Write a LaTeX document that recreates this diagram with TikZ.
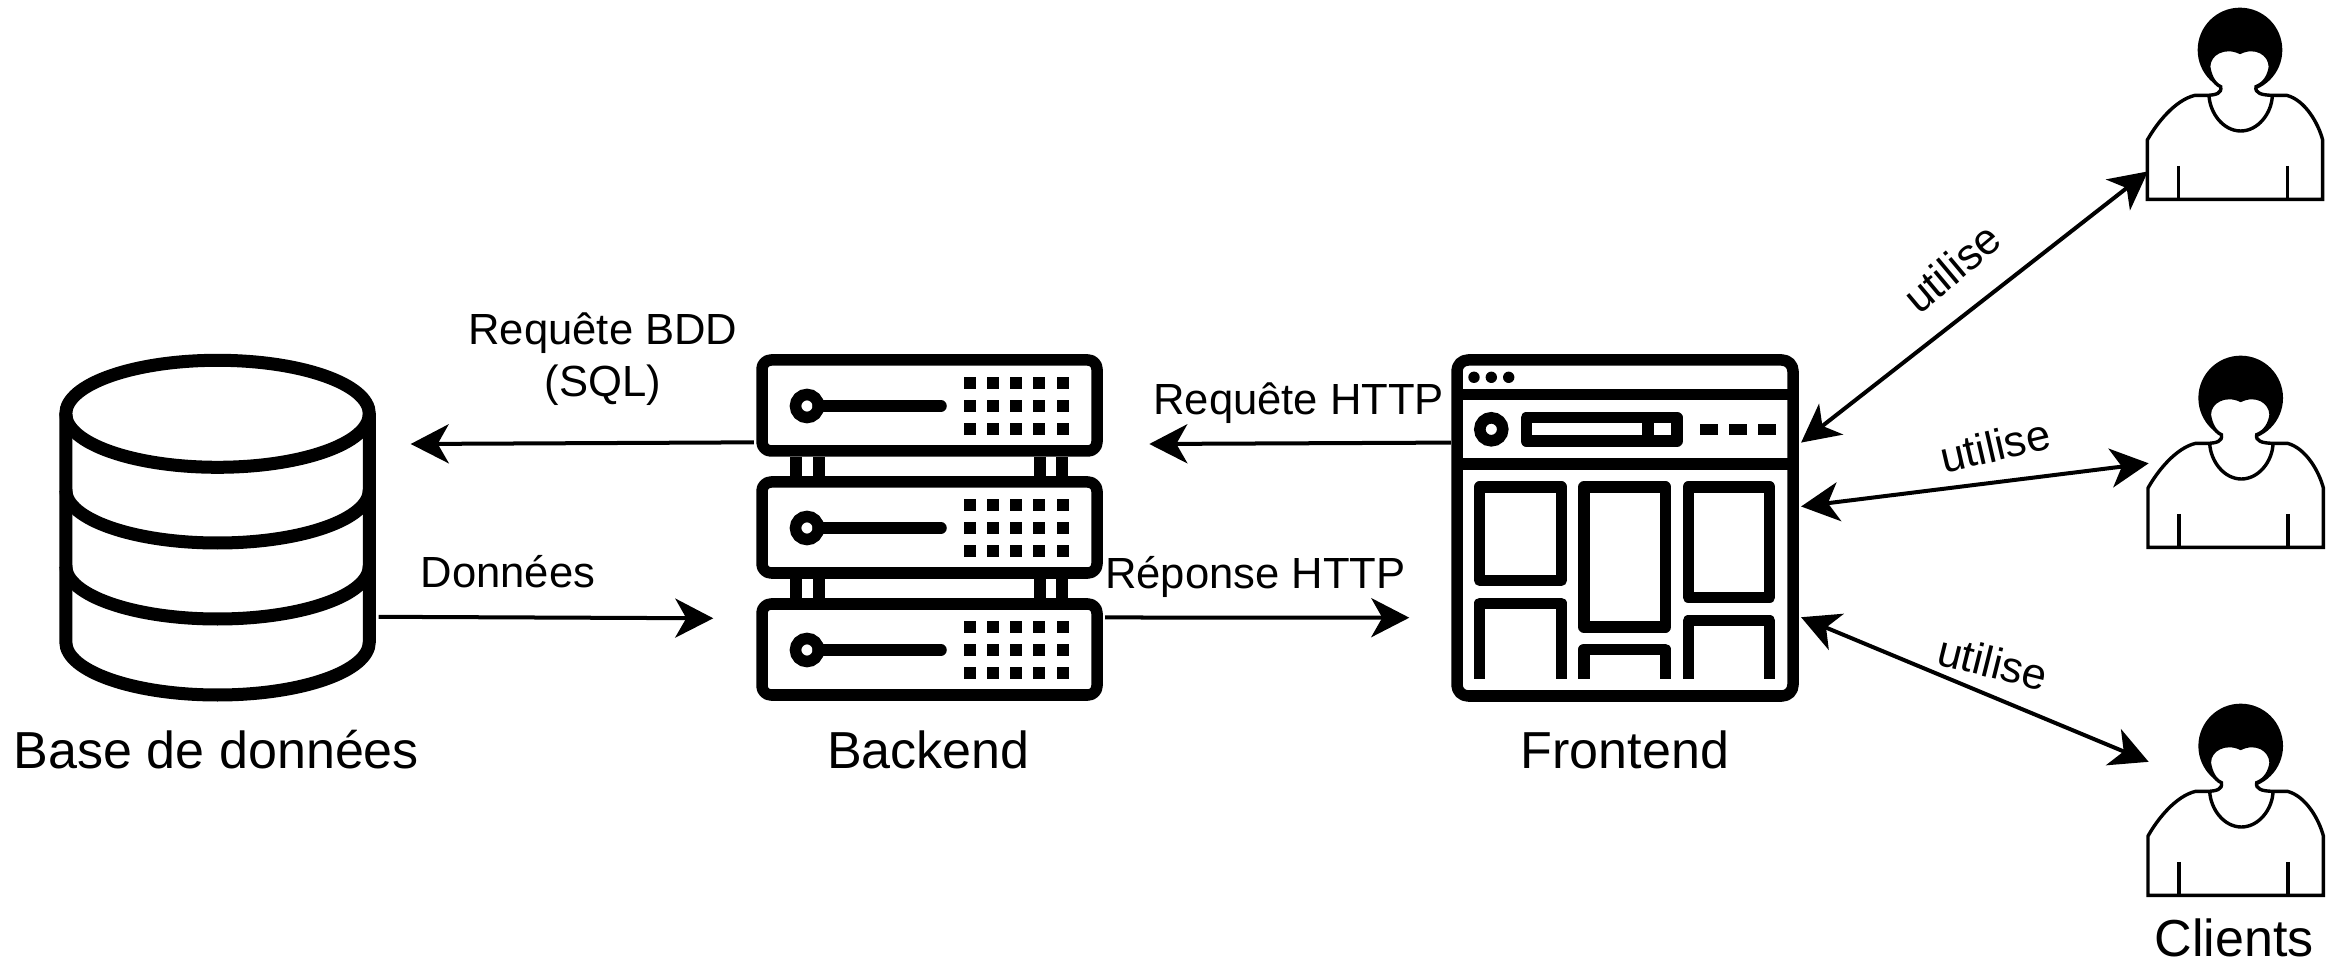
\documentclass[tikz,border=0pt]{standalone}
\usepackage{fontspec}
\setmainfont{Liberation Sans}
\usetikzlibrary{arrows.meta}

\tikzset{
	iconbox/.style={minimum height=3.48cm, inner sep=0pt, outer sep=0pt},
	iconline/.style={draw, line width=0.115cm, line join=round},
	dbline/.style={draw, line width=0.13cm},
	personline/.style={draw, line width=0.034cm},
	link/.style={line width=0.04cm, -{Stealth[length=0.38cm,width=0.39cm,inset=0.11cm]}},
	biglink/.style={line width=0.04cm, {Stealth[length=0.38cm,width=0.39cm,inset=0.11cm]}-{Stealth[length=0.38cm,width=0.39cm,inset=0.11cm]}},
	title/.style={anchor=base, inner sep=0pt, font=\fontsize{14.8}{17.8}\selectfont},
	edgelabel/.style={anchor=base, inner sep=0pt, font=\fontsize{12.4}{14.9}\selectfont},
	person/.pic={
		\begin{scope}[scale=1/3]
			% Hair
			\fill (330,150) circle[radius=127];
			% Body and face
			\path[personline, fill=white] (52,598) -- (52,420) .. controls (80,370) and (135,300) .. (195,286)
				-- (232,286) .. controls (258,285) and (276,280) .. (272,260)
				.. controls (250,250) and (240,225) .. (236,200) .. controls (236,160) and (285,135) .. (330,157)
				.. controls (375,135) and (420,160) .. (421,200) .. controls (418,225) and (405,250) .. (378,260)
				.. controls (374,280) and (395,285) .. (425,286) -- (470,286) .. controls (525,300) and (565,370) .. (578,420)
				-- (578,598) -- cycle;
			% Neckline
			\draw[personline] (237,287) .. controls (240,340) and (280,393) .. (332,393) .. controls (384,393) and (425,340) .. (427,287);
			% Sleeves
			\draw[personline] (145,498) -- (145,598);
			\draw[personline] (472,498) -- (472,598);
		\end{scope}
	}
}

\begin{document}
\begin{tikzpicture}[x=0.01cm, y=-0.01cm]
	\useasboundingbox (0,0) rectangle (2344,964);

	% Icon boxes
	\node[iconbox, minimum width=3.22cm] (database) at (217.5,527.5) {};
	\node[iconbox, minimum width=3.51cm] (backend) at (929.5,528) {};
	\node[iconbox, minimum width=3.5cm] (frontend) at (1626,528) {};
	\node[iconbox, minimum width=1.75cm, minimum height=1.92cm] (client1) at (2235.5,103) {};
	\node[iconbox, minimum width=1.75cm, minimum height=1.92cm] (client2) at (2236.2,451) {};
	\node[iconbox, minimum width=1.75cm, minimum height=1.92cm] (client3) at (2236.2,799) {};

	% Database
	\path[dbline] (65.8,414) -- (65.8,642) arc[start angle=180, end angle=0, x radius=151.75, y radius=53] -- (369.3,414);
	\path[dbline] (217.55,413.8) ellipse[x radius=151.75, y radius=53.5];
	\path[dbline] (65.8,490) arc[start angle=180, end angle=0, x radius=151.75, y radius=53];
	\path[dbline] (65.8,566) arc[start angle=180, end angle=0, x radius=151.75, y radius=53];

	% Backend
	\foreach \dy in {0,122,244} {
		\begin{scope}[shift={(0,\dy)}]
			\path[iconline, rounded corners=0.09cm] (762,360) rectangle (1097,451);
			\draw[line width=0.115cm] (807,406) circle[radius=11.5];
			\draw[line width=0.115cm, line cap=round] (818,406) -- (941,406);
			\foreach \x in {969.7,993,1016,1039.3,1062.7} {
				\foreach \y in {382.7,406,429} {
					\fill (\x-6,\y-6) rectangle (\x+6,\y+6);
				}
			}
		\end{scope}
	}
	\foreach \dy in {0,122} {
		\foreach \x in {796,819,1040,1062} {
			\draw[line width=0.115cm] (\x,457+\dy) -- (\x,476+\dy);
		}
	}

	% Frontend
	\path[iconline, rounded corners=0.11cm] (1457,360) rectangle (1793,696);
	\draw[line width=0.115cm] (1457,394.3) -- (1793,394.3);
	\draw[line width=0.115cm] (1457,464) -- (1793,464);
	\foreach \x in {1474,1491.3,1508.7} {
		\fill (\x,377.3) circle[radius=5.7];
	}
	\draw[line width=0.115cm] (1491.3,429.3) circle[radius=11.5];
	\path[iconline] (1526.3,417.7) rectangle (1677,441);
	\draw[line width=0.115cm] (1647.8,417.7) -- (1647.8,441);
	\foreach \x in {1700.3,1729.3,1758.3} {
		\fill (\x,423.7) rectangle (\x+17.4,435);
	}
	\path[iconline] (1479.7,487) rectangle (1561.3,580.3);
	\path[iconline] (1584,487) rectangle (1665.3,627);
	\path[iconline] (1688.3,487) rectangle (1769.7,597.3);
	\path[iconline] (1479.7,678.7) -- (1479.7,603.3) -- (1561.3,603.3) -- (1561.3,678.7);
	\path[iconline] (1584,678.7) -- (1584,649.3) -- (1665.3,649.3) -- (1665.3,678.7);
	\path[iconline] (1688.3,678.7) -- (1688.3,620.7) -- (1769.7,620.7) -- (1769.7,678.7);

	% Clients
	\pic at (2130,0) {person};
	\pic at (2130.7,348) {person};
	\pic at (2130.7,696) {person};

	% Free ends
	\coordinate (dbIn) at (410.7,444);
	\coordinate (backendIn) at (713.3,618.3);
	\coordinate (httpIn) at (1149.3,444);
	\coordinate (frontendIn) at (1409.3,617.7);

	% Edges
	\draw[link] (backend.154) -- (dbIn);
	\draw[link] (database.-29) -- (backendIn);
	\draw[link] (frontend.154) -- (httpIn);
	\draw[link] (backend.-27) -- (frontendIn);
	\draw[biglink] (frontend.26) -- (client1.218.4);
	\draw[biglink] (frontend.7) -- (client2.188);
	\draw[biglink] (frontend.-27) -- (client3.157.5);

	% Titles
	\node[title] (dbTitle) at (216.5,768) {Base de données};
	\node[title] (backendTitle) at (928.5,768) {Backend};
	\node[title] (frontendTitle) at (1625,768) {Frontend};
	\node[title] (clientsTitle) at (2234,957) {Clients};

	% Edge labels
	\node[edgelabel, align=center] (sqlLabel) at (603,396.7) {Requête BDD\\(SQL)};
	\node[edgelabel] (dataLabel) at (508,587.7) {Données};
	\node[edgelabel] (requestLabel) at (1298.7,415) {Requête HTTP};
	\node[edgelabel] (responseLabel) at (1255.3,588.3) {Réponse HTTP};
	\node[edgelabel, anchor=center, rotate=40] (useLabel1) at (1951.8,268) {utilise};
	\node[edgelabel, anchor=center, rotate=13] (useLabel2) at (1995,445.7) {utilise};
	\node[edgelabel, anchor=center, rotate=-14] (useLabel3) at (1993,662.4) {utilise};
\end{tikzpicture}
\end{document}
